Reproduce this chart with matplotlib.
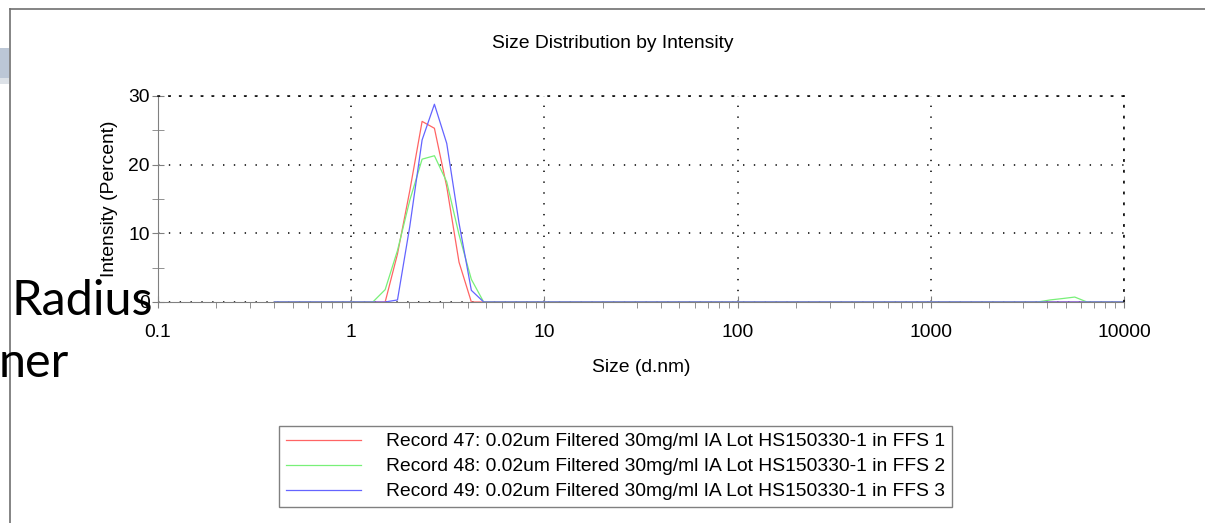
import matplotlib
matplotlib.use("Agg")
import matplotlib.pyplot as plt
from matplotlib.lines import Line2D
from matplotlib.patches import Rectangle
from matplotlib.ticker import NullFormatter

# Zetasizer size classes (d.nm)
sizes = [0.4, 0.4632, 0.5365, 0.6213, 0.7195, 0.8332, 0.9649, 1.117, 1.294, 1.499,
         1.736, 2.010, 2.328, 2.696, 3.122, 3.615, 4.187, 4.849, 5.615, 6.503,
         7.531, 8.721, 10.10, 11.70, 13.54, 15.69, 18.17, 21.04, 24.36, 28.21,
         32.67, 37.84, 43.82, 50.75, 58.77, 68.06, 78.82, 91.28, 105.7, 122.4,
         141.8, 164.2, 190.1, 220.2, 255.0, 295.3, 342.0, 396.1, 458.7, 531.2,
         615.1, 712.4, 825.0, 955.4, 1106, 1281, 1484, 1718, 1990, 2305,
         2669, 3091, 3580, 4145, 4801, 5560, 6439, 7456, 8635, 10000]

rec47 = [0, 0, 0, 0, 0, 0, 0, 0, 0, 0,
         7.0, 16.2, 26.3, 25.3, 16.8, 5.8, 0, 0, 0, 0,
         0, 0, 0, 0, 0, 0, 0, 0, 0, 0,
         0, 0, 0, 0, 0, 0, 0, 0, 0, 0,
         0, 0, 0, 0, 0, 0, 0, 0, 0, 0,
         0, 0, 0, 0, 0, 0, 0, 0, 0, 0,
         0, 0, 0, 0, 0, 0, 0, 0, 0, 0]

rec48 = [0, 0, 0, 0, 0, 0, 0, 0, 0, 1.8,
         7.5, 14.8, 20.8, 21.3, 17.5, 9.8, 3.3, 0, 0, 0,
         0, 0, 0, 0, 0, 0, 0, 0, 0, 0,
         0, 0, 0, 0, 0, 0, 0, 0, 0, 0,
         0, 0, 0, 0, 0, 0, 0, 0, 0, 0,
         0, 0, 0, 0, 0, 0, 0, 0, 0, 0,
         0, 0, 0, 0.3, 0.5, 0.72, 0, 0, 0, 0]

rec49 = [0, 0, 0, 0, 0, 0, 0, 0, 0, 0,
         0.3, 11.0, 23.6, 28.8, 23.1, 11.5, 1.7, 0, 0, 0,
         0, 0, 0, 0, 0, 0, 0, 0, 0, 0,
         0, 0, 0, 0, 0, 0, 0, 0, 0, 0,
         0, 0, 0, 0, 0, 0, 0, 0, 0, 0,
         0, 0, 0, 0, 0, 0, 0, 0, 0, 0,
         0, 0, 0, 0, 0, 0, 0, 0, 0, 0]

labels = ["Record 47: 0.02um Filtered 30mg/ml IA Lot HS150330-1 in FFS 1",
          "Record 48: 0.02um Filtered 30mg/ml IA Lot HS150330-1 in FFS 2",
          "Record 49: 0.02um Filtered 30mg/ml IA Lot HS150330-1 in FFS 3"]
colors = ["#ff6464", "#78f078", "#6464ff"]

xticks = [0.1, 1, 10, 100, 1000, 10000]
xticklabels = ["0.1", "1", "10", "100", "1000", "10000"]
yticks = [0, 10, 20, 30]

plt.rcParams['font.family'] = ['Liberation Sans', 'DejaVu Sans']
plt.rcParams['lines.scale_dashes'] = False
fs = 13.9
dots = (0, (1, 6.8))

fig = plt.figure(figsize=(12.05, 5.23), dpi=100)
ax = fig.add_axes([158 / 1205, 1 - 302 / 523, 966 / 1205, 206 / 523])

for vals, lab, col in zip([rec47, rec48, rec49], labels, colors):
    ax.plot(sizes, vals, color=col, lw=0.9, label=lab)

ax.set_xscale('log')
ax.set_xlim(0.1, 10000)
ax.set_ylim(0, 30)
ax.set_xticks(xticks)
ax.set_xticklabels(xticklabels)
ax.xaxis.set_minor_formatter(NullFormatter())
ax.set_yticks(yticks)
ax.set_yticks([5, 15, 25], minor=True)

ax.tick_params(axis='both', which='major', direction='inout', length=8,
               color='#808080', labelsize=fs, labelcolor='black')
ax.tick_params(axis='x', which='major', pad=12)
ax.tick_params(axis='y', which='major', pad=2)
ax.tick_params(axis='x', which='minor', direction='out', length=4, color='#808080')
ax.tick_params(axis='y', which='minor', direction='inout', length=8, color='#808080')

ax.grid(True, which='major', color='black', linestyle=dots, lw=1.1)
for s in ['left', 'bottom']:
    ax.spines[s].set_color('#808080')
for s in ['top', 'right']:
    ax.spines[s].set_color('black')
    ax.spines[s].set_linestyle(dots)
    ax.spines[s].set_linewidth(1.1)

ax.set_xlabel("Size (d.nm)", fontsize=fs, labelpad=13)
ax.set_ylabel("Intensity (Percent)", fontsize=fs, labelpad=7.5)

fig.text(613 / 1205, 1 - 44 / 523, "Size Distribution by Intensity",
         fontsize=fs, ha='center', va='center')

leg = ax.legend(loc='upper left', bbox_to_anchor=(279 / 1205, 1 - 426 / 523),
                bbox_transform=fig.transFigure, borderaxespad=0, fontsize=fs,
                handlelength=3.9, handletextpad=1.3, labelspacing=0.39,
                borderpad=0.35, fancybox=False, framealpha=1)
leg.get_frame().set_edgecolor('#808080')
leg.get_frame().set_linewidth(1.0)

# slide background bits around the pasted chart
fig.add_artist(Line2D([10 / 1205, 1], [1 - 9 / 523, 1 - 9 / 523],
                      transform=fig.transFigure, color='#707070', lw=1.2))
fig.add_artist(Line2D([10 / 1205, 10 / 1205], [0, 1 - 9 / 523],
                      transform=fig.transFigure, color='#707070', lw=1.2))
fig.add_artist(Rectangle((0, 1 - 84 / 523), 9 / 1205, 6 / 523,
                         transform=fig.transFigure, color='#dde2e8', lw=0))
fig.add_artist(Rectangle((0, 1 - 78 / 523), 9 / 1205, 30 / 523,
                         transform=fig.transFigure, color='#bcc7d6', lw=0))
fig.text(11 / 1205, 1 - 315 / 523, "Radius", fontsize=35, family='Lato',
         ha='left', va='baseline', zorder=10)
fig.text(-1 / 1205, 1 - 377 / 523, "ner", fontsize=35, family='Lato',
         ha='left', va='baseline', zorder=10)

fig.savefig("out.png", dpi=100)
